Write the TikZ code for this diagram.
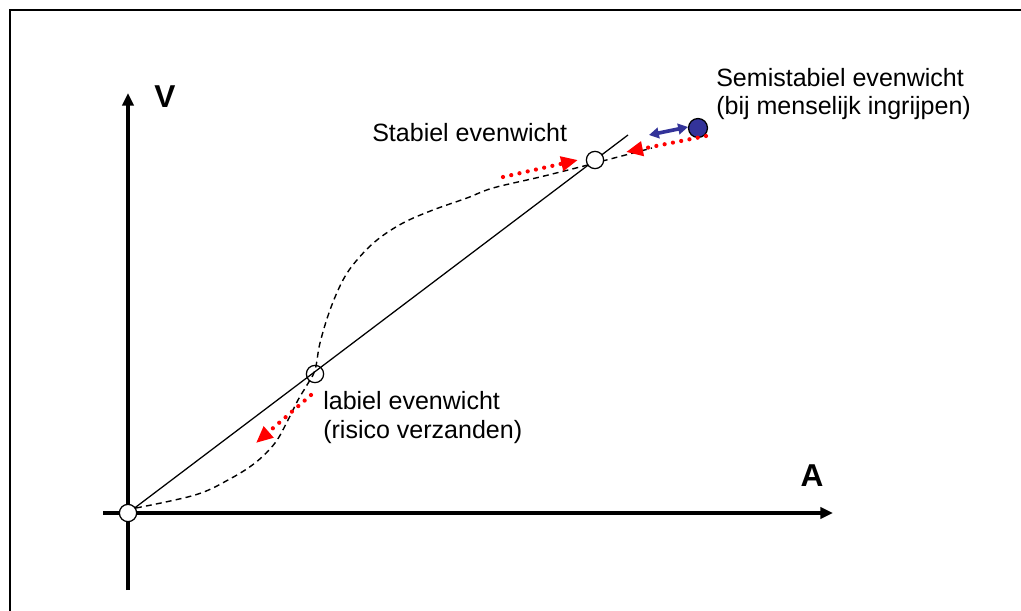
\documentclass[tikz,border=0pt]{standalone}
\usepackage{fontspec}
\setmainfont{Liberation Sans}
\usetikzlibrary{arrows.meta}
\definecolor{dotblue}{RGB}{51,51,153}

\begin{document}
\begin{tikzpicture}[x=0.025cm,y=-0.025cm,
  axis/.style={line width=2.8pt,-{Triangle[length=9pt,width=8pt]}},
  push/.style={red,line width=3pt,line cap=round,dash pattern=on 0pt off 6pt,
    -{Triangle[length=12pt,width=10pt]}},
  wiggle/.style={color=dotblue,line width=2.6pt,
    {Triangle[length=7pt,width=7.5pt]}-{Triangle[length=7pt,width=7.5pt]}},
  eq/.style={circle,draw,line width=0.9pt,minimum size=12.3pt,inner sep=0pt},
  txt/.style={anchor=base west,inner sep=0pt,align=left,
    font=\fontsize{17.8}{20.3}\selectfont},
  lbl/.style={inner sep=0pt,font=\fontsize{22.5}{26}\selectfont\bfseries}]

\useasboundingbox (0,0) rectangle (1021,611);

% frame
\draw[line width=2.1pt] (10,611) -- (10,10) -- (1021,10);

\coordinate (O) at (128,513);
\coordinate (L) at (315,374);
\coordinate (S) at (595,160);
\coordinate (H) at (698,128);
\coordinate (E) at (628,135);

% axes
\draw[axis] (103,513) -- (833,513);
\draw[axis] (128,590) -- (128,93);
\node[lbl] (v) at (165,97) {V};
\node[lbl] (a) at (812,476) {A};

% straight line and dashed S-curve
\draw[line width=0.9pt] (O) -- (E);
\draw[line width=1pt,dash pattern=on 4.2pt off 3pt] plot[smooth,tension=0.6] coordinates {
  (136,508) (195,495) (228,480) (255,463) (275,443) (288,420) (298,400)
  (307,385) (315,370) (320,343) (330,310) (343,280) (357,260) (377,240)
  (403,223) (433,210) (467,198) (493,188) (540,177) (580,167) (595,163)
  (637,152) (652,148)};

% equilibria
\node[eq,fill=white] (o) at (O) {};
\node[eq] (l) at (L) {};
\node[eq,fill=white] (s) at (S) {};
\node[eq,fill=dotblue,minimum size=13.5pt] (h) at (H) {};

% pushes away from / towards equilibrium
\coordinate (l1) at (311,395);
\coordinate (l2) at (256,443);
\coordinate (s1) at (503,177);
\coordinate (s2) at (578,160);
\coordinate (s3) at (706,136);
\coordinate (s4) at (626,152);
\draw[push] (l1) -- (l2);
\draw[push] (s1) -- (s2);
\draw[push] (s3) -- (s4);
\coordinate (h1) at (649,135);
\coordinate (h2) at (688,127);
\draw[wiggle] (h1) -- (h2);

% multi-line nodes sit on their last baseline
\node[txt] (stab) at (372,141) {Stabiel evenwicht};
\node[txt] (semi) at (716,115) {Semistabiel evenwicht\\(bij menselijk ingrijpen)};
\node[txt] (lab) at (323,438) {labiel evenwicht\\(risico verzanden)};

\end{tikzpicture}
\end{document}
